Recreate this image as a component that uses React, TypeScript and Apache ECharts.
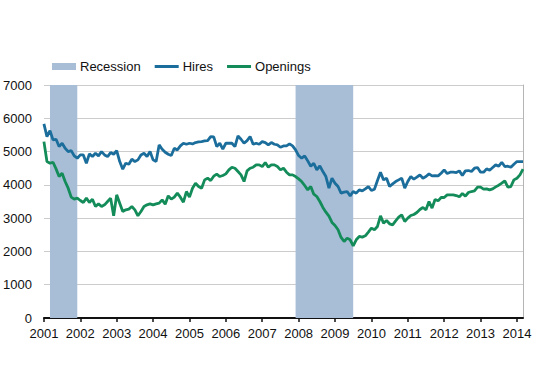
import { useEffect, useRef } from 'react';
import * as echarts from 'echarts';

// Monthly data, Jan 2001 – Mar 2014 (thousands)
const START_YEAR = 2001;
const yearTicks = [2001, 2002, 2003, 2004, 2005, 2006, 2007, 2008, 2009, 2010, 2011, 2012, 2013, 2014];
const recessions: [number, number][] = [
  [2001 + 2 / 12, 2001 + 11 / 12],
  [2007 + 11 / 12, 2009 + 6 / 12],
];

const hires = [
  5830, 5450, 5630, 5350, 5370, 5150, 5250, 5100, 5000, 5030, 4870, 4800, // 2001
  4900, 4900, 4650, 4930, 4850, 4950, 4870, 5000, 4900, 4850, 4970, 4920, // 2002
  5030, 4700, 4470, 4650, 4620, 4770, 4700, 4750, 4900, 4950, 4850, 5000, // 2003
  4750, 4700, 5200, 5070, 4980, 4920, 4880, 5100, 5050, 5170, 5250, 5220, // 2004
  5250, 5230, 5270, 5290, 5300, 5320, 5330, 5450, 5440, 5150, 5250, 5070, // 2005
  5250, 5250, 5250, 5150, 5470, 5370, 5250, 5330, 5450, 5220, 5250, 5220, // 2006
  5300, 5270, 5200, 5270, 5220, 5200, 5130, 5170, 5170, 5230, 5170, 5050, // 2007
  4880, 4800, 4870, 4720, 4560, 4650, 4450, 4570, 4400, 4250, 3900, 4200, // 2008
  4050, 3950, 3750, 3780, 3800, 3670, 3800, 3750, 3850, 3820, 3880, 3950, // 2009
  3830, 3870, 4130, 4380, 4150, 4200, 3950, 4030, 4100, 4150, 4200, 3900, // 2010
  4100, 4250, 4170, 4230, 4300, 4200, 4250, 4330, 4270, 4280, 4270, 4350, // 2011
  4450, 4340, 4380, 4380, 4370, 4420, 4280, 4420, 4430, 4400, 4500, 4520, // 2012
  4380, 4380, 4480, 4440, 4520, 4600, 4560, 4680, 4550, 4560, 4530, 4620, // 2013
  4700, 4700, 4700, // 2014
];

const openings = [
  5300, 4700, 4650, 4680, 4480, 4250, 4350, 4100, 3900, 3630, 3570, 3600, // 2001
  3530, 3470, 3600, 3470, 3570, 3350, 3430, 3350, 3400, 3500, 3600, 3070, // 2002
  3700, 3450, 3200, 3250, 3270, 3350, 3250, 3070, 3200, 3350, 3400, 3430, // 2003
  3400, 3430, 3450, 3550, 3420, 3670, 3570, 3630, 3750, 3630, 3480, 3800, // 2004
  3630, 3900, 4050, 3950, 3900, 4150, 4200, 4130, 4260, 4320, 4250, 4280, // 2005
  4330, 4450, 4530, 4500, 4400, 4300, 4100, 4420, 4500, 4530, 4600, 4600, // 2006
  4550, 4670, 4530, 4600, 4600, 4550, 4450, 4500, 4380, 4300, 4300, 4250, // 2007
  4180, 4100, 3980, 3850, 3950, 3720, 3650, 3500, 3320, 3180, 3060, 2870, // 2008
  2780, 2650, 2420, 2300, 2400, 2350, 2170, 2350, 2450, 2430, 2470, 2580, // 2009
  2700, 2650, 2750, 3070, 2850, 2930, 2830, 2800, 2920, 3030, 3100, 2900, // 2010
  3000, 3080, 3110, 3170, 3260, 3320, 3250, 3500, 3300, 3560, 3520, 3620, // 2011
  3620, 3700, 3700, 3700, 3680, 3640, 3740, 3660, 3770, 3800, 3820, 3930, // 2012
  3930, 3870, 3880, 3850, 3880, 3940, 3990, 4050, 4120, 3930, 3950, 4150, // 2013
  4200, 4300, 4470, // 2014
];

const FONT = 'Arial, "Liberation Sans", sans-serif';
const HIRES_COLOR = '#1b6e9b';
const OPEN_COLOR = '#138c5a';
const REC_COLOR = '#a8bed6';
const LINE_ICON = 'path://M0,0 L24,0 L24,3 L0,3 Z';

export default function App() {
  const ref = useRef<HTMLDivElement>(null);
  useEffect(() => {
    if (!ref.current) return;
    const chart = echarts.init(ref.current, undefined, { renderer: 'svg' });
    const toXY = (arr: number[]) => arr.map((v, i) => [START_YEAR + i / 12, v]);
    const xMax = START_YEAR + (hires.length - 1) / 12;
    chart.setOption({
      animation: false,
      backgroundColor: '#ffffff',
      textStyle: { fontFamily: FONT },
      grid: { left: 39, right: 30, top: 85, bottom: 51, containLabel: false },
      legend: {
        left: 52,
        top: 60,
        padding: 0,
        itemWidth: 24,
        itemHeight: 7,
        itemGap: 14,
        symbolKeepAspect: true,
        textStyle: { fontSize: 13, color: '#111', fontFamily: FONT, padding: [0, 0, 0, -1] },
        data: [
          { name: 'Recession', icon: 'rect' },
          { name: 'Hires', icon: LINE_ICON },
          { name: 'Openings', icon: LINE_ICON },
        ],
      },
      xAxis: {
        type: 'value',
        min: START_YEAR,
        max: xMax,
        interval: 1,
        axisLine: { show: true, lineStyle: { color: '#111', width: 2 } },
        axisTick: { show: true, length: 4, lineStyle: { color: '#111', width: 1.5 }, customValues: yearTicks },
        axisLabel: {
          fontSize: 13,
          color: '#111',
          margin: 9,
          fontFamily: FONT,
          customValues: yearTicks,
          formatter: (v: number) => String(Math.round(v)),
        },
        splitLine: { show: false },
      },
      yAxis: [
        {
          type: 'value',
          min: 0,
          max: 7000,
          interval: 1000,
          axisLine: { show: false },
          axisTick: { show: false },
          axisLabel: {
            fontSize: 13,
            color: '#111',
            margin: 12,
            fontFamily: FONT,
            formatter: (v: number) => String(v),
          },
          splitLine: { show: true, lineStyle: { color: '#cccccc', width: 1 } },
        },
        {
          type: 'value',
          position: 'right',
          min: 0,
          max: 7000,
          interval: 1000,
          axisLine: { show: true, lineStyle: { color: '#b5b5b5', width: 1 } },
          axisTick: { show: false },
          axisLabel: { show: false },
          splitLine: { show: false },
        },
      ],
      series: [
        {
          name: 'Recession',
          type: 'custom',
          z: 1,
          itemStyle: { color: REC_COLOR },
          encode: { x: [0, 1] },
          data: recessions,
          renderItem: (_p: any, api: any) => {
            const a = api.coord([api.value(0), 7000]);
            const b = api.coord([api.value(1), 0]);
            return {
              type: 'rect',
              shape: { x: a[0], y: a[1], width: b[0] - a[0], height: b[1] - a[1] },
              style: { fill: REC_COLOR },
            };
          },
        },
        {
          name: 'Hires',
          type: 'line',
          z: 3,
          symbol: 'none',
          color: HIRES_COLOR,
          itemStyle: { color: HIRES_COLOR },
          lineStyle: { color: HIRES_COLOR, width: 2.8 },
          data: toXY(hires),
        },
        {
          name: 'Openings',
          type: 'line',
          z: 3,
          symbol: 'none',
          color: OPEN_COLOR,
          itemStyle: { color: OPEN_COLOR },
          lineStyle: { color: OPEN_COLOR, width: 2.8 },
          data: toXY(openings),
        },
      ],
    });
    return () => chart.dispose();
  }, []);
  return (
    <div
      ref={ref}
      style={{ position: 'absolute', left: 0, top: 0, width: 553, height: 369, background: '#fff' }}
    />
  );
}
